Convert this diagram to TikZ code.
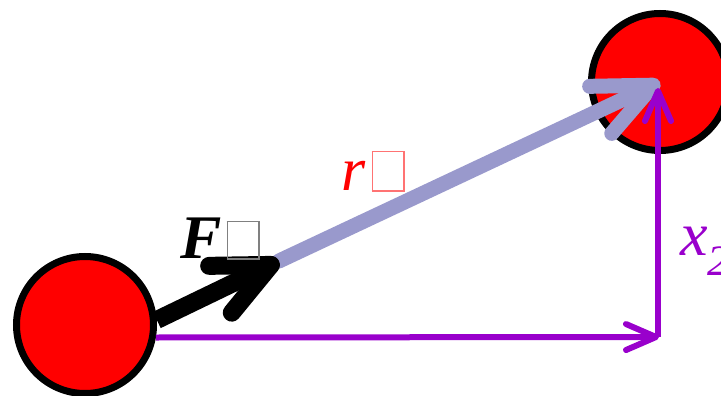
\documentclass[tikz,border=0pt]{standalone}
\usepackage{fontspec}
\setmainfont{Liberation Serif}
\usetikzlibrary{arrows.meta}
\definecolor{mass}{HTML}{FF0000}
\definecolor{disp}{HTML}{9900CC}
\definecolor{sepv}{HTML}{9999CC}
% empty box as printed in place of the missing glyph
\newcommand\missglyph[3]{{\color{#1}\setlength\fboxsep{0pt}\setlength\fboxrule{1.5pt}\fbox{\rule{0pt}{#2}\hspace{#3}}}}

\begin{document}
\begin{tikzpicture}[x=1pt,y=-1pt,
  mass/.style={circle,draw=black,line width=7pt,fill=mass,inner sep=0pt,minimum size=137pt},
  lbl/.style={inner sep=0pt,anchor=base west,font=\fontsize{62}{62}\selectfont},
  disparrow/.style={disp,line width=6pt,-{Straight Barb[round,length=30pt,width=26pt]}},
  bigarrow/.style={line width=15pt,line cap=round,-{Straight Barb[round,length=58pt,width=52pt]}}
]
\useasboundingbox (0,0) rectangle (721,396);

\node[mass] (m1) at (85,325) {};
\node[mass] (m2) at (660,82) {};

\coordinate (ftip) at (279,261);
\coordinate (corner) at (659,337);
\coordinate (vtip) at (658,88);

\draw[bigarrow,sepv] (ftip) -- (m2.center);
\draw[bigarrow,black,line width=18pt,line cap=butt,-{Straight Barb[round,length=56pt,width=52pt]}] (m1.4) -- (ftip);
\draw[disparrow] (m1.-10) -- (corner);
\draw[disparrow] (vtip |- corner) -- (vtip);

\node[lbl,text=red] (rlabel) at (341,190) {\textit{r}\hspace{6pt}\missglyph{red!55}{38pt}{30pt}};
\node[lbl] (flabel) at (180,258) {\textbf{\textit{F}}\hspace{5pt}\missglyph{black!50}{36pt}{30pt}};
\node[lbl,text=disp] (xlabel) at (680,255) {\textit{x\textsubscript{2}}};
\end{tikzpicture}
\end{document}
